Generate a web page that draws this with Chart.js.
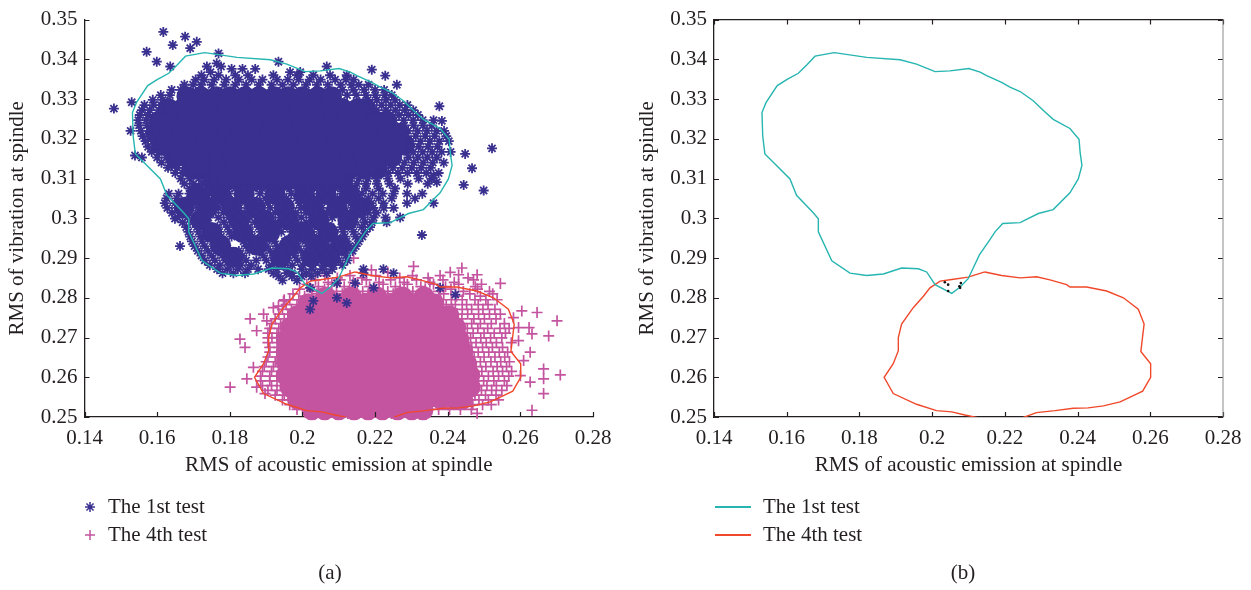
<!DOCTYPE html>
<html>
<head>
<meta charset="utf-8">
<script src="https://cdn.jsdelivr.net/npm/chart.js@4.4.1/dist/chart.umd.min.js"></script>
<style>
  html, body { margin: 0; padding: 0; background: #fff; }
  body { width: 1251px; height: 590px; position: relative; overflow: hidden; }
  canvas { position: absolute; top: 0; }
  #panelA { left: 0; }
  #panelB { left: 630px; }
</style>
</head>
<body>
<canvas id="panelA" width="625" height="590"></canvas>
<canvas id="panelB" width="621" height="590"></canvas>
<script>
const ink = '#231f20';
const serif = "'Liberation Serif', 'DejaVu Serif', serif";
const blue = '#39308f';
const pink = '#c454a0';
const cyan = '#26b5b0';
const red = '#f0482a';

const xTicks = [0.14, 0.16, 0.18, 0.2, 0.22, 0.24, 0.26, 0.28];
const xTickLabels = ['0.14', '0.16', '0.18', '0.2', '0.22', '0.24', '0.26', '0.28'];
const yTicks = [0.25, 0.26, 0.27, 0.28, 0.29, 0.3, 0.31, 0.32, 0.33, 0.34, 0.35];
const yTickLabels = ['0.25', '0.26', '0.27', '0.28', '0.29', '0.3', '0.31', '0.32', '0.33', '0.34', '0.35'];
const xTitle = 'RMS of acoustic emission at spindle';
const yTitle = 'RMS of vibration at spindle';
const seriesNames = ['The 1st test', 'The 4th test'];

// boundary of the 1st test cloud
const test1EdgeX = [0.1731, 0.1820, 0.1912, 0.1957, 0.2008, 0.2049, 0.2101, 0.2132, 0.2150, 0.2191, 0.2214, 0.2242, 0.2278, 0.2306,
  0.2333, 0.2379, 0.2404, 0.2407, 0.2412, 0.2402, 0.2379, 0.2333, 0.2292, 0.2242, 0.2194, 0.2173, 0.2157, 0.2130, 0.2113, 0.2099,
  0.2077, 0.2054, 0.2008, 0.1985, 0.1962, 0.1916, 0.1866, 0.1820, 0.1774, 0.1724, 0.1687, 0.1687, 0.1673, 0.1627, 0.1609, 0.1572,
  0.1540, 0.1534, 0.1532, 0.1543, 0.1574, 0.1600, 0.1632, 0.1655, 0.1678, 0.1731];
const test1EdgeY = [0.3417, 0.3405, 0.3399, 0.3388, 0.3369, 0.3371, 0.3377, 0.3368, 0.3359, 0.3342, 0.3330, 0.3319, 0.3296, 0.3271,
  0.3249, 0.3226, 0.3199, 0.3166, 0.3133, 0.3099, 0.3064, 0.3022, 0.3012, 0.2989, 0.2987, 0.2966, 0.2944, 0.2908, 0.2875, 0.2848,
  0.2827, 0.2811, 0.2833, 0.2865, 0.2873, 0.2875, 0.2860, 0.2856, 0.2862, 0.2893, 0.2966, 0.2999, 0.3014, 0.3058, 0.3099, 0.3133,
  0.3162, 0.3207, 0.3266, 0.3291, 0.3334, 0.3349, 0.3365, 0.3386, 0.3408, 0.3417];

// boundary of the 4th test cloud
const test4EdgeX = [0.2145, 0.2099, 0.2054, 0.2022, 0.1994, 0.1976, 0.1948, 0.1916, 0.1907, 0.1907, 0.1893, 0.1868, 0.1893, 0.1957,
  0.2012, 0.2054, 0.2090, 0.2122, 0.2185, 0.2251, 0.2287, 0.2338, 0.2388, 0.2429, 0.2471, 0.2517, 0.2549, 0.2579, 0.2601, 0.2601,
  0.2574, 0.2583, 0.2567, 0.2526, 0.2480, 0.2425, 0.2379, 0.2370, 0.2324, 0.2287, 0.2242, 0.2191, 0.2145];
const test4EdgeY = [0.2865, 0.2852, 0.2846, 0.2842, 0.2825, 0.2804, 0.2775, 0.2734, 0.2700, 0.2667, 0.2634, 0.2600, 0.2559, 0.2532,
  0.2516, 0.2513, 0.2505, 0.2499, 0.2485, 0.2499, 0.2511, 0.2516, 0.2522, 0.2523, 0.2528, 0.2538, 0.2552, 0.2565, 0.2600, 0.2634,
  0.2665, 0.2734, 0.2771, 0.2800, 0.2817, 0.2827, 0.2827, 0.2833, 0.2845, 0.2853, 0.2850, 0.2856, 0.2865];

// where the two boundaries touch
const meetX = [0.2035, 0.2044, 0.2044, 0.2075, 0.2079, 0.2077];
const meetY = [0.2839, 0.2833, 0.2817, 0.2829, 0.2837, 0.2825];

// samples as rows: [y, [x, x, ...]], both in thousandths
// the dense parts of the 1st test, where the markers merge
const test1Dense = [
  [330.6, [168.2, 172.0, 176.3, 180.1, 184.2, 188.0, 192.3, 196.1, 200.0, 204.2, 208.0]],
  [327.6, [163.1, 167.0, 171.2, 175.0, 179.2, 183.1, 187.0, 191.2, 195.1, 199.0, 203.2, 207.1, 211.0, 215.2, 217.4]],
  [324.5, [160.6, 164.1, 168.0, 172.2, 176.1, 180.0, 184.2, 188.1, 192.0, 196.2, 200.1, 204.0, 208.2, 212.1, 216.0, 220.2, 223.1]],
  [321.4, [159.6, 163.2, 167.1, 171.0, 175.2, 179.1, 183.0, 187.2, 191.1, 195.0, 199.2, 203.1, 207.0, 211.2, 215.1, 219.0, 223.2, 226.6]],
  [318.4, [161.2, 165.0, 169.2, 173.1, 177.0, 181.2, 185.1, 189.0, 193.2, 197.1, 201.0, 205.2, 209.1, 213.0, 217.2, 221.1, 225.0, 228.1]],
  [315.4, [165.1, 169.0, 173.2, 177.1, 181.0, 185.2, 189.1, 193.0, 197.2, 201.1, 205.0, 209.2, 213.1, 217.0, 221.2, 224.6]],
  [312.4, [169.6, 173.1, 177.0, 181.2, 185.1, 189.0, 193.2, 197.1, 201.0, 205.2, 209.1, 213.0, 217.2, 220.6]],
  [309.5, [175.6, 179.1, 183.0, 187.2, 191.1, 195.0, 199.2, 203.1, 207.0, 211.1]],
  [306.0, [171.0, 177.5, 184.0, 192.5, 200.5, 206.5, 213.0]],
  [302.8, [167.5, 174.0, 180.5, 187.0, 195.0, 203.0, 209.5, 216.0]],
  [299.6, [172.0, 182.5, 189.5, 196.0, 204.5, 212.5]],
  [296.4, [175.0, 183.5, 191.0, 200.0, 207.0]],
  [293.2, [177.5, 187.5, 196.5, 204.0, 210.5]],
  [290.2, [181.0, 194.0, 202.5, 207.5]]
];

const test1Samples = [
  [346.9, [161.7]], [345.7, [167.7]], [344.4, [170.9]], [343.6, [164.3]], [342.8, [169.1]], [341.9, [157.1]], [341.5, [176.9]],
  [339.4, [159.9, 193.4]], [339.0, [176.4]], [338.2, [163.6, 173.7, 177.6, 206.7]], [337.6, [180.5, 183.5, 187.0]], [337.4, [219.1]],
  [336.8, [174.7, 196.6, 199.4]],
  [336.0, [172.2, 176.9, 181.5, 185.0, 192.0, 198.5, 203.0, 207.6, 212.2]], [335.9, [222.8]],
  [334.9, [170.6, 173.0, 175.7, 179.0, 182.5, 186.0, 189.0, 193.0, 196.0, 199.0, 202.0, 205.0, 209.0, 212.0, 214.1]],
  [333.6, [167.5, 169.9, 172.1, 175.0, 178.5, 181.5, 184.5, 188.0, 191.5, 194.5, 197.5, 201.0, 204.0, 207.0, 210.5, 213.5, 215.5, 218.2, 226.0]],
  [332.3, [164.0, 166.5, 211.0, 214.0, 217.0, 220.0, 222.5]],
  [331.0, [161.0, 163.5, 212.3, 214.9, 217.5, 220.1, 222.7, 224.6]],
  [329.8, [158.8, 161.5, 218.0, 220.5, 223.0, 225.5]], [329.2, [153.0]],
  [328.5, [156.5, 159.0, 161.0, 219.2, 221.8, 224.3, 226.8, 228.9]], [328.2, [237.7]], [327.6, [148.1]],
  [327.2, [155.8, 158.0, 160.5, 220.4, 223.0, 225.6, 228.2, 230.5]],
  [326.0, [155.2, 157.5, 224.0, 226.6, 229.2, 231.8]],
  [324.7, [154.8, 157.0, 225.3, 227.9, 230.5, 233.1, 236.1]], [324.5, [238.4]],
  [323.4, [155.0, 157.2, 228.0, 230.6, 233.2, 235.6]],
  [322.0, [152.7, 155.5, 157.8, 229.1, 231.7, 234.3, 236.9, 239.0]],
  [320.7, [156.0, 158.2, 228.6, 231.2, 233.8, 236.4, 239.6]],
  [319.4, [156.8, 158.8, 229.9, 232.5, 235.1, 237.7, 240.3]],
  [318.0, [157.5, 159.5, 229.4, 232.0, 234.6, 237.2]], [317.6, [252.2]],
  [316.7, [158.5, 160.5, 230.5, 233.1, 235.7, 238.3, 240.8]], [316.2, [244.8]], [315.8, [153.9]],
  [315.3, [155.8, 160.0, 162.5, 229.2, 231.8, 234.4, 237.0]],
  [314.0, [161.2, 163.5, 228.1, 230.7, 233.3, 235.9, 238.9]], [313.3, [164.0]],
  [312.7, [163.0, 165.5, 167.5, 222.3, 224.9, 227.5, 230.1, 232.7, 235.3]], [312.6, [246.7]],
  [311.4, [165.0, 167.0, 221.1, 223.7, 226.3, 228.9, 231.5, 234.1, 237.5]], [310.8, [236.1]],
  [310.0, [166.5, 169.0, 171.5, 173.5, 213.0, 215.5, 218.0, 220.5, 223.5, 227.0, 232.0, 235.5]], [309.1, [237.0]],
  [308.7, [167.5, 170.0, 172.5, 174.0, 212.5, 215.0, 217.5, 220.5, 224.0, 229.0, 234.5]], [308.4, [244.4]],
  [307.5, [169.0, 171.5, 174.0, 176.5, 179.0, 181.5, 184.0, 186.5, 189.0, 191.5, 194.0, 196.5, 199.0, 201.5, 204.0, 206.5, 209.0, 211.5, 214.5, 217.5, 221.0, 225.5]],
  [307.0, [249.9]],
  [306.2, [163.2, 165.9, 168.9, 171.4, 174.3, 177.2, 179.8, 182.6, 188.3, 191.0, 193.9, 196.9, 199.6, 202.5, 205.3, 208.0, 210.9, 213.6, 216.4, 219.3, 222.1, 225.1, 228.8, 233.0]],
  [305.0, [162.6, 165.4, 170.8, 173.6, 176.5, 179.4, 182.1, 185.0, 189.8, 192.6, 195.5, 198.3, 201.1, 204.0, 206.8, 209.6, 212.5, 215.3, 218.1, 221.0, 224.6, 231.0]],
  [303.8, [162.1, 164.9, 167.8, 170.6, 173.5, 176.3, 179.2, 182.0, 184.8, 187.7, 190.5, 199.2, 210.5, 213.4, 216.2, 219.0, 222.3, 228.8, 236.1]],
  [302.6, [162.8, 165.6, 168.5, 171.2, 174.1, 176.9, 179.7, 182.6, 185.4, 188.2, 191.1, 193.9, 196.8, 199.6, 202.4, 205.3, 208.1, 210.9, 213.8, 216.6, 219.5, 222.4, 225.1]],
  [301.4, [164.1, 166.9, 168.6, 172.6, 175.4, 178.3, 181.1, 184.0, 186.8, 189.6, 192.5, 195.3, 198.1, 201.0, 203.8, 206.6, 212.3, 215.1, 218.0, 220.4]],
  [300.2, [165.6, 168.4, 171.2, 174.1, 176.9, 179.8, 182.6, 185.5, 188.3, 191.1, 194.0, 196.8, 199.7, 202.5, 205.3, 208.2, 211.0, 213.9, 216.7, 219.6, 222.9, 226.9]],
  [299.9, [164.9]],
  [299.0, [167.0, 169.8, 178.4, 181.2, 184.1, 186.9, 189.8, 192.6, 195.4, 198.3, 201.1, 203.9, 211.5, 214.4, 217.2, 219.1, 223.2]],
  [297.8, [168.0, 170.9, 173.7, 176.6, 179.4, 182.3, 185.1, 187.9, 190.8, 193.6, 196.5, 199.3, 202.1, 205.0, 207.8, 210.7, 213.5, 216.3, 218.6]],
  [296.6, [168.6, 171.4, 177.1, 179.9, 182.8, 185.6, 188.5, 194.2, 197.0, 199.9, 202.7, 205.6, 208.4, 211.2, 214.1, 217.3]],
  [295.8, [232.9]],
  [295.4, [169.1, 171.9, 174.8, 177.6, 180.5, 183.3, 186.1, 189.0, 191.8, 197.5, 200.4, 203.2, 206.0, 208.9, 211.7, 214.6, 216.5]],
  [294.2, [169.6, 172.4, 175.3, 178.1, 183.8, 186.6, 189.5, 192.3, 195.2, 198.0, 200.8, 206.5, 209.4, 212.2, 215.5]],
  [293.0, [166.3, 170.3, 173.1, 175.9, 178.8, 184.5, 187.3, 190.2, 193.0, 195.8, 198.7, 201.5, 204.4, 207.2, 210.0, 212.9, 214.7]],
  [291.8, [171.2, 174.0, 176.9, 179.7, 182.5, 185.4, 188.2, 191.1, 193.9, 196.7, 199.6, 202.4, 205.3, 208.1, 210.9, 213.8]],
  [290.6, [172.2, 175.0, 177.9, 180.7, 183.5, 189.2, 192.1, 197.8, 200.6, 203.4, 206.3, 209.1, 212.0]],
  [289.4, [173.1, 175.9, 178.8, 181.6, 184.5, 187.3, 190.1, 193.0, 195.8, 198.7, 201.5, 204.3, 207.2, 210.0, 212.4]],
  [288.2, [174.5, 177.3, 180.2, 183.0, 185.9, 191.5, 194.4, 197.2, 200.1, 202.9, 205.7, 208.6, 211.0]],
  [287.2, [176.5, 179.3, 182.2, 185.0, 187.8, 190.7, 193.0, 196.0, 199.8, 202.6, 205.5, 208.2, 216.8, 222.3]],
  [286.2, [178.0, 181.0, 184.2, 192.0, 195.6, 197.1, 201.0, 204.2, 206.7, 216.8, 225.1]],
  [285.4, [193.5, 197.1, 199.8, 202.5]], [284.4, [194.5, 198.5]], [283.7, [209.5, 214.5]],
  [282.5, [202.1, 219.6, 237.9]], [280.8, [242.1]], [280.0, [209.5]], [279.2, [203.0]], [278.7, [212.2]], [277.1, [202.1]]
];

// the dense parts of the 4th test
const test4Dense = [
  [280.2, [206.5, 213.5, 220.5, 227.5, 233.5]],
  [278.5, [201.6, 205.1, 209.0, 213.2, 217.1, 221.0, 225.2, 229.1, 233.0, 236.2]],
  [275.5, [198.6, 202.1, 206.0, 210.2, 214.1, 218.0, 222.2, 226.1, 230.0, 234.2, 238.1, 240.3]],
  [272.5, [196.6, 200.2, 204.1, 208.0, 212.2, 216.1, 220.0, 224.2, 228.1, 232.0, 236.2, 240.1, 242.2]],
  [269.5, [195.6, 199.1, 203.0, 207.2, 211.1, 215.0, 219.2, 223.1, 227.0, 231.2, 235.1, 239.0, 243.1]],
  [266.5, [195.5, 199.2, 203.1, 207.0, 211.2, 215.1, 219.0, 223.2, 227.1, 231.0, 235.2, 239.1, 242.6, 244.2]],
  [263.5, [195.6, 199.0, 203.2, 207.1, 211.0, 215.2, 219.1, 223.0, 227.2, 231.1, 235.0, 239.2, 243.1, 245.2]],
  [260.5, [195.5, 199.1, 203.0, 207.2, 211.1, 215.0, 219.2, 223.1, 227.0, 231.2, 235.1, 239.0, 243.2, 246.1]],
  [257.5, [196.6, 200.2, 204.1, 208.0, 212.2, 216.1, 220.0, 224.2, 228.1, 232.0, 236.2, 240.1, 244.0, 246.2]],
  [254.5, [198.6, 202.1, 206.0, 210.2, 214.1, 218.0, 222.2, 226.1, 230.0, 234.2, 238.1, 242.0, 244.1]],
  [251.8, [202.6, 206.1, 210.0, 214.2, 218.1, 222.0, 226.2, 230.1, 233.2]]
];

const test4Samples = [
  [290.0, [214.1]], [287.9, [230.6]], [287.5, [243.9]], [287.0, [219.0]], [286.4, [223.5, 240.7]], [285.8, [243.0, 248.1]],
  [285.6, [206.2, 213.1, 220.2, 230.3, 237.9]],
  [285.0, [209.6, 216.4, 226.8, 234.6, 245.6]],
  [284.5, [203.6, 210.4, 217.6, 224.3, 231.4, 238.7, 247.1]],
  [283.9, [207.1, 214.0, 221.1, 228.0, 235.1, 241.8]], [283.6, [254.5]],
  [283.4, [201.2, 208.1, 215.1, 222.2, 228.9, 236.1, 243.0, 249.3]],
  [282.8, [204.4, 211.5, 218.5, 225.6, 232.6, 239.4, 247.6]],
  [282.2, [199.2, 206.1, 213.0, 219.9, 226.9, 233.8, 240.9, 248.2]],
  [281.6, [202.6, 209.4, 216.6, 223.5, 230.4, 237.5, 244.3, 251.5]],
  [281.0, [197.4, 204.0, 211.0, 218.1, 225.0, 232.0, 238.9, 246.1, 252.4]],
  [280.4, [200.6, 207.6, 214.5, 221.4, 228.6, 235.5, 242.4, 249.0]],
  [279.5, [195.0, 196.5, 199.0, 238.0, 241.0, 244.0, 247.5, 250.5, 253.6]], [279.2, [194.8]],
  [278.3, [195.5, 198.5, 239.6, 242.1, 245.2, 248.4, 251.1]], [277.9, [193.4]], [277.5, [192.0]],
  [277.1, [194.5, 197.0, 241.3, 244.0, 246.6, 249.7, 253.0]], [276.7, [260.4]], [276.3, [264.6]],
  [275.9, [189.3, 193.5, 196.0, 242.5, 245.5, 248.5, 251.5, 254.5]], [275.0, [258.1]],
  [274.7, [185.6, 192.5, 195.0, 243.9, 247.2, 250.1, 253.3]], [274.2, [190.2, 270.1]],
  [273.5, [191.5, 194.0, 244.0, 246.6, 249.0, 252.0, 255.6]], [272.5, [259.5, 262.4]],
  [272.3, [191.0, 193.5, 245.4, 248.3, 251.0, 254.4, 256.9]], [271.7, [187.4]],
  [271.1, [190.5, 193.0, 244.6, 247.0, 250.0, 252.8, 255.9]], [270.9, [263.2]], [270.4, [267.8]], [270.0, [191.6]],
  [269.9, [190.5, 193.0, 246.3, 249.1, 251.8, 254.9]], [269.6, [182.8]], [269.2, [259.5]],
  [268.7, [190.5, 193.0, 245.2, 247.8, 250.6, 253.4, 257.5]],
  [267.5, [184.2, 191.0, 193.5, 246.6, 249.6, 252.3, 255.1]],
  [266.3, [191.0, 193.5, 245.9, 248.4, 251.3, 254.2, 256.5, 262.7]],
  [265.1, [190.5, 193.0, 247.3, 250.0, 253.0, 255.7]], [264.2, [260.9]],
  [263.9, [190.0, 192.5, 246.4, 249.0, 251.9, 254.6, 257.0]],
  [262.7, [189.5, 192.0, 247.8, 250.5, 253.6, 256.2]], [262.5, [186.5]], [262.1, [266.4]],
  [261.5, [189.0, 191.5, 246.8, 249.4, 252.5, 255.1, 257.6]], [260.6, [271.0]], [260.4, [260.0]],
  [260.3, [188.5, 191.0, 193.0, 248.3, 251.2, 254.0, 256.8]], [259.6, [184.7, 266.4]],
  [259.1, [188.5, 191.0, 193.0, 247.2, 249.9, 252.7, 255.6]], [258.8, [262.7]],
  [257.9, [189.0, 191.5, 194.0, 247.9, 250.8, 253.4, 256.3]], [257.5, [180.1, 187.4]],
  [256.7, [190.5, 193.0, 195.0, 246.6, 249.3, 252.1, 254.9]], [255.9, [189.7, 266.4]],
  [255.5, [192.5, 195.0, 197.0, 247.5, 250.4, 253.3]],
  [254.3, [194.5, 196.5, 245.8, 248.6, 251.2, 254.0]],
  [253.1, [196.5, 199.0, 201.5, 240.0, 243.2, 246.9, 249.6, 252.0]],
  [251.9, [198.5, 201.0, 234.5, 237.5, 240.5, 243.5, 246.5]], [251.7, [263.2]],
  [250.9, [203.5, 206.5, 209.5, 212.5, 215.5, 218.5, 221.5, 224.5, 227.5, 230.5, 248.1]]
];

function rowsToPoints(rows) {
  const pts = [];
  rows.forEach(([y, xs]) => xs.forEach(x => pts.push({ x: x / 1000, y: y / 1000 })));
  return pts;
}

function zipPoints(xs, ys) {
  return xs.map((x, i) => ({ x: x, y: ys[i] }));
}

// axes, inward tick marks, legend and caption of one panel
const panelDecor = {
  id: 'panelDecor',
  afterDraw(chart, args, opts) {
    const { ctx, chartArea: a, scales: { x, y } } = chart;
    ctx.save();
    ctx.strokeStyle = ink;
    ctx.lineWidth = 1.2;
    ctx.beginPath();
    xTicks.forEach(v => {
      const px = Math.round(x.getPixelForValue(v)) + 0.5;
      ctx.moveTo(px, a.bottom);
      ctx.lineTo(px, a.bottom - 5);
      if (opts.box) {
        ctx.moveTo(px, a.top);
        ctx.lineTo(px, a.top + 5);
      }
    });
    yTicks.forEach(v => {
      const py = Math.round(y.getPixelForValue(v)) + 0.5;
      ctx.moveTo(a.left, py);
      ctx.lineTo(a.left + 5, py);
      if (opts.box) {
        ctx.moveTo(a.right, py);
        ctx.lineTo(a.right - 5, py);
      }
    });
    ctx.stroke();
    if (opts.box) {
      ctx.beginPath();
      ctx.moveTo(a.left, a.top);
      ctx.lineTo(a.right, a.top);
      ctx.stroke();
      ctx.strokeStyle = '#8a8a8a';
      ctx.lineWidth = 1;
      ctx.beginPath();
      ctx.moveTo(a.right, a.top);
      ctx.lineTo(a.right, a.bottom);
      ctx.stroke();
    }

    ctx.font = '21px ' + serif;
    ctx.fillStyle = ink;
    ctx.textBaseline = 'middle';
    opts.legend.forEach((item, i) => {
      const ly = opts.legendY[i];
      ctx.strokeStyle = item.color;
      if (item.style === 'line') {
        ctx.lineWidth = 2;
        ctx.beginPath();
        ctx.moveTo(opts.markX - 18, ly);
        ctx.lineTo(opts.markX + 18, ly);
        ctx.stroke();
      } else {
        ctx.lineWidth = 1.5;
        ctx.fillStyle = item.color;
        Chart.helpers.drawPoint(ctx, { pointStyle: item.style, radius: 5, rotation: 0, borderWidth: 1.5 }, opts.markX, ly);
      }
      ctx.fillStyle = ink;
      ctx.textAlign = 'left';
      ctx.fillText(item.text, opts.textX, ly);
    });
    ctx.textAlign = 'center';
    ctx.fillText(opts.caption, opts.captionX, 573);
    ctx.restore();
  }
};

function scaleOptions(yWidth) {
  return {
    x: {
      type: 'linear', min: 0.14, max: 0.28,
      afterBuildTicks: s => { s.ticks = xTicks.map(v => ({ value: v })); },
      afterFit: s => { s.height = 63; },
      grid: { display: false, drawTicks: false },
      border: { display: true, color: ink, width: 1.3 },
      ticks: {
        autoSkip: false, maxRotation: 0, padding: 9, color: ink,
        font: { family: serif, size: 21 },
        callback: (v, i) => xTickLabels[i]
      },
      title: {
        display: true, text: xTitle, color: ink,
        font: { family: serif, size: 21 }, padding: { top: 0, bottom: 2 }
      }
    },
    y: {
      type: 'linear', min: 0.25, max: 0.35,
      afterBuildTicks: s => { s.ticks = yTicks.map(v => ({ value: v })); },
      afterFit: s => { s.width = yWidth; },
      grid: { display: false, drawTicks: false },
      border: { display: true, color: ink, width: 1.3 },
      ticks: {
        autoSkip: false, padding: 7, color: ink,
        font: { family: serif, size: 21 },
        callback: (v, i) => yTickLabels[i]
      },
      title: {
        display: true, text: yTitle, color: ink,
        font: { family: serif, size: 21 }, padding: { top: 5, bottom: 0 }
      }
    }
  };
}

const common = {
  responsive: false,
  animation: false,
  events: [],
  plugins: { legend: { display: false }, tooltip: { enabled: false } }
};

// (a) the two sample clouds with their boundaries
new Chart(document.getElementById('panelA'), {
  type: 'scatter',
  data: {
    datasets: [
      { data: zipPoints(test1EdgeX, test1EdgeY), showLine: true, pointRadius: 0, borderColor: cyan, borderWidth: 1.4, clip: 0, order: 0 },
      { data: zipPoints(test4EdgeX, test4EdgeY), showLine: true, pointRadius: 0, borderColor: red, borderWidth: 1.4, clip: 0, order: 0 },
      { label: seriesNames[0], data: rowsToPoints(test1Samples), pointStyle: 'star', pointRadius: 5, pointBorderWidth: 1.8,
        borderColor: blue, backgroundColor: blue, clip: false, order: 1 },
      { data: rowsToPoints(test1Dense), pointStyle: 'circle', pointRadius: 10.5, pointBorderWidth: 0,
        borderColor: blue, backgroundColor: blue, clip: false, order: 2 },
      { label: seriesNames[1], data: rowsToPoints(test4Samples), pointStyle: 'cross', pointRadius: 5.5, pointBorderWidth: 1.7,
        borderColor: pink, backgroundColor: pink, clip: false, order: 3 },
      { data: rowsToPoints(test4Dense), pointStyle: 'circle', pointRadius: 10.5, pointBorderWidth: 0,
        borderColor: pink, backgroundColor: pink, clip: false, order: 4 }
    ]
  },
  options: Object.assign({}, common, {
    layout: { padding: { left: 0, top: 16, right: 32, bottom: 110 } },
    scales: scaleOptions(84.5),
    plugins: Object.assign({}, common.plugins, {
      panelDecor: {
        box: false, caption: '(a)', captionX: 330, markX: 90, textX: 108, legendY: [507, 535],
        legend: [
          { style: 'star', color: blue, text: seriesNames[0] },
          { style: 'cross', color: pink, text: seriesNames[1] }
        ]
      }
    })
  }),
  plugins: [panelDecor]
});

// (b) the boundaries only
new Chart(document.getElementById('panelB'), {
  type: 'scatter',
  data: {
    datasets: [
      { data: zipPoints(meetX, meetY), pointStyle: 'circle', pointRadius: 1.3, pointBorderWidth: 0,
        backgroundColor: '#111', borderColor: '#111', order: 0 },
      { label: seriesNames[0], data: zipPoints(test1EdgeX, test1EdgeY), showLine: true, pointRadius: 0,
        borderColor: cyan, borderWidth: 1.4, clip: 0, order: 1 },
      { label: seriesNames[1], data: zipPoints(test4EdgeX, test4EdgeY), showLine: true, pointRadius: 0,
        borderColor: red, borderWidth: 1.4, clip: 0, order: 1 }
    ]
  },
  options: Object.assign({}, common, {
    layout: { padding: { left: 0, top: 16, right: 28, bottom: 110 } },
    scales: scaleOptions(84),
    plugins: Object.assign({}, common.plugins, {
      panelDecor: {
        box: true, caption: '(b)', captionX: 333, markX: 103, textX: 133, legendY: [507, 535],
        legend: [
          { style: 'line', color: cyan, text: seriesNames[0] },
          { style: 'line', color: red, text: seriesNames[1] }
        ]
      }
    })
  }),
  plugins: [panelDecor]
});
</script>
</body>
</html>
